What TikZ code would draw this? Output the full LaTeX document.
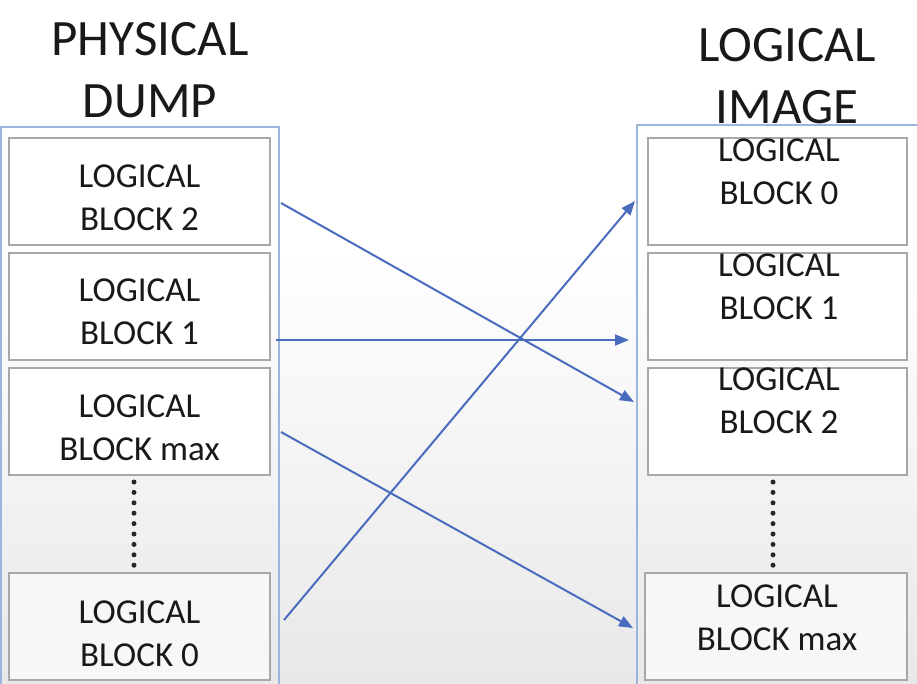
\documentclass[tikz,border=0pt]{standalone}
\usepackage{fontspec}
\setmainfont{Carlito}
\usetikzlibrary{arrows.meta}
\definecolor{arrowblue}{HTML}{4A6CBF}
\definecolor{panelblue}{HTML}{9DB4DD}
\definecolor{boxgray}{HTML}{A8A8A8}
\tikzset{
  blockbox/.style={draw=boxgray, line width=2pt, fill=white, minimum width=261pt, minimum height=107pt, inner sep=0pt},
  blocktext/.style={align=center, font=\fontsize{35}{43}\selectfont, text=black!90, inner sep=0pt},
  titletext/.style={align=center, font=\fontsize{51}{62}\selectfont, text=black!90, inner sep=0pt},
  panel/.style={draw=panelblue, line width=2pt},
  maparrow/.style={draw=arrowblue, line width=2pt, -{Triangle[length=14pt,width=11pt]}},
  dotline/.style={line width=5pt, line cap=round, dash pattern=on 0pt off 10.4pt, black!85}
}
\begin{document}
\begin{tikzpicture}[x=1pt,y=-1pt]
\useasboundingbox (0,0) rectangle (917,683);
\fill[white] (0,0) rectangle (917,683);
\fill[top color=white, bottom color=black!9] (0,250) rectangle (917,683);
% panels
\draw[panel] (1,127) rectangle (279,700);
\draw[panel] (637,125) rectangle (930,700);
% titles
\node[titletext] (tphys) at (150,70) {PHYSICAL\\DUMP};
\node[titletext] (tlog) at (787,76) {LOGICAL\\IMAGE};
% left boxes
\node[blockbox] (L2) at (139.5,191.5) {};
\node[blockbox] (L1) at (139.5,306.5) {};
\node[blockbox] (Lmax) at (139.5,421.5) {};
\node[blockbox, fill=black!3] (L0) at (139.5,626) {};
\node[blocktext] (tL2) at (139.5,198) {LOGICAL\\BLOCK 2};
\node[blocktext] (tL1) at (139.5,312) {LOGICAL\\BLOCK 1};
\node[blocktext] (tLmax) at (139.5,428) {LOGICAL\\BLOCK max};
\node[blocktext] (tL0) at (139.5,634) {LOGICAL\\BLOCK 0};
% right boxes
\node[blockbox, minimum width=259pt] (R0) at (777.5,191.5) {};
\node[blockbox, minimum width=259pt] (R1) at (777.5,306.5) {};
\node[blockbox, minimum width=259pt] (R2) at (777.5,421.5) {};
\node[blockbox, minimum width=262pt, fill=black!3] (Rmax) at (776,626) {};
\node[blocktext] (tR0) at (779,172) {LOGICAL\\BLOCK 0};
\node[blocktext] (tR1) at (779,287) {LOGICAL\\BLOCK 1};
\node[blocktext] (tR2) at (779,401) {LOGICAL\\BLOCK 2};
\node[blocktext] (tRmax) at (777,618) {LOGICAL\\BLOCK max};
% dots
\coordinate (dl1) at (134,482);
\coordinate (dl2) at (134,566);
\coordinate (dr1) at (773,482);
\coordinate (dr2) at (773,566);
\draw[dotline] (dl1) -- (dl2);
\draw[dotline] (dr1) -- (dr2);
% arrows
\draw[maparrow] ([xshift=10pt,yshift=-11.5pt]L2.east) -- ([xshift=-13pt,yshift=19.5pt]R2.west);
\draw[maparrow] ([xshift=5pt,yshift=-33.5pt]L1.east) -- ([xshift=-18pt,yshift=-33.5pt]R1.west);
\draw[maparrow] ([xshift=13pt,yshift=6pt]L0.east) -- ([xshift=-12pt,yshift=-9.5pt]R0.west);
\draw[maparrow] ([xshift=10pt,yshift=-10.5pt]Lmax.east) -- ([xshift=-11pt,yshift=-2pt]Rmax.west);
\end{tikzpicture}
\end{document}
